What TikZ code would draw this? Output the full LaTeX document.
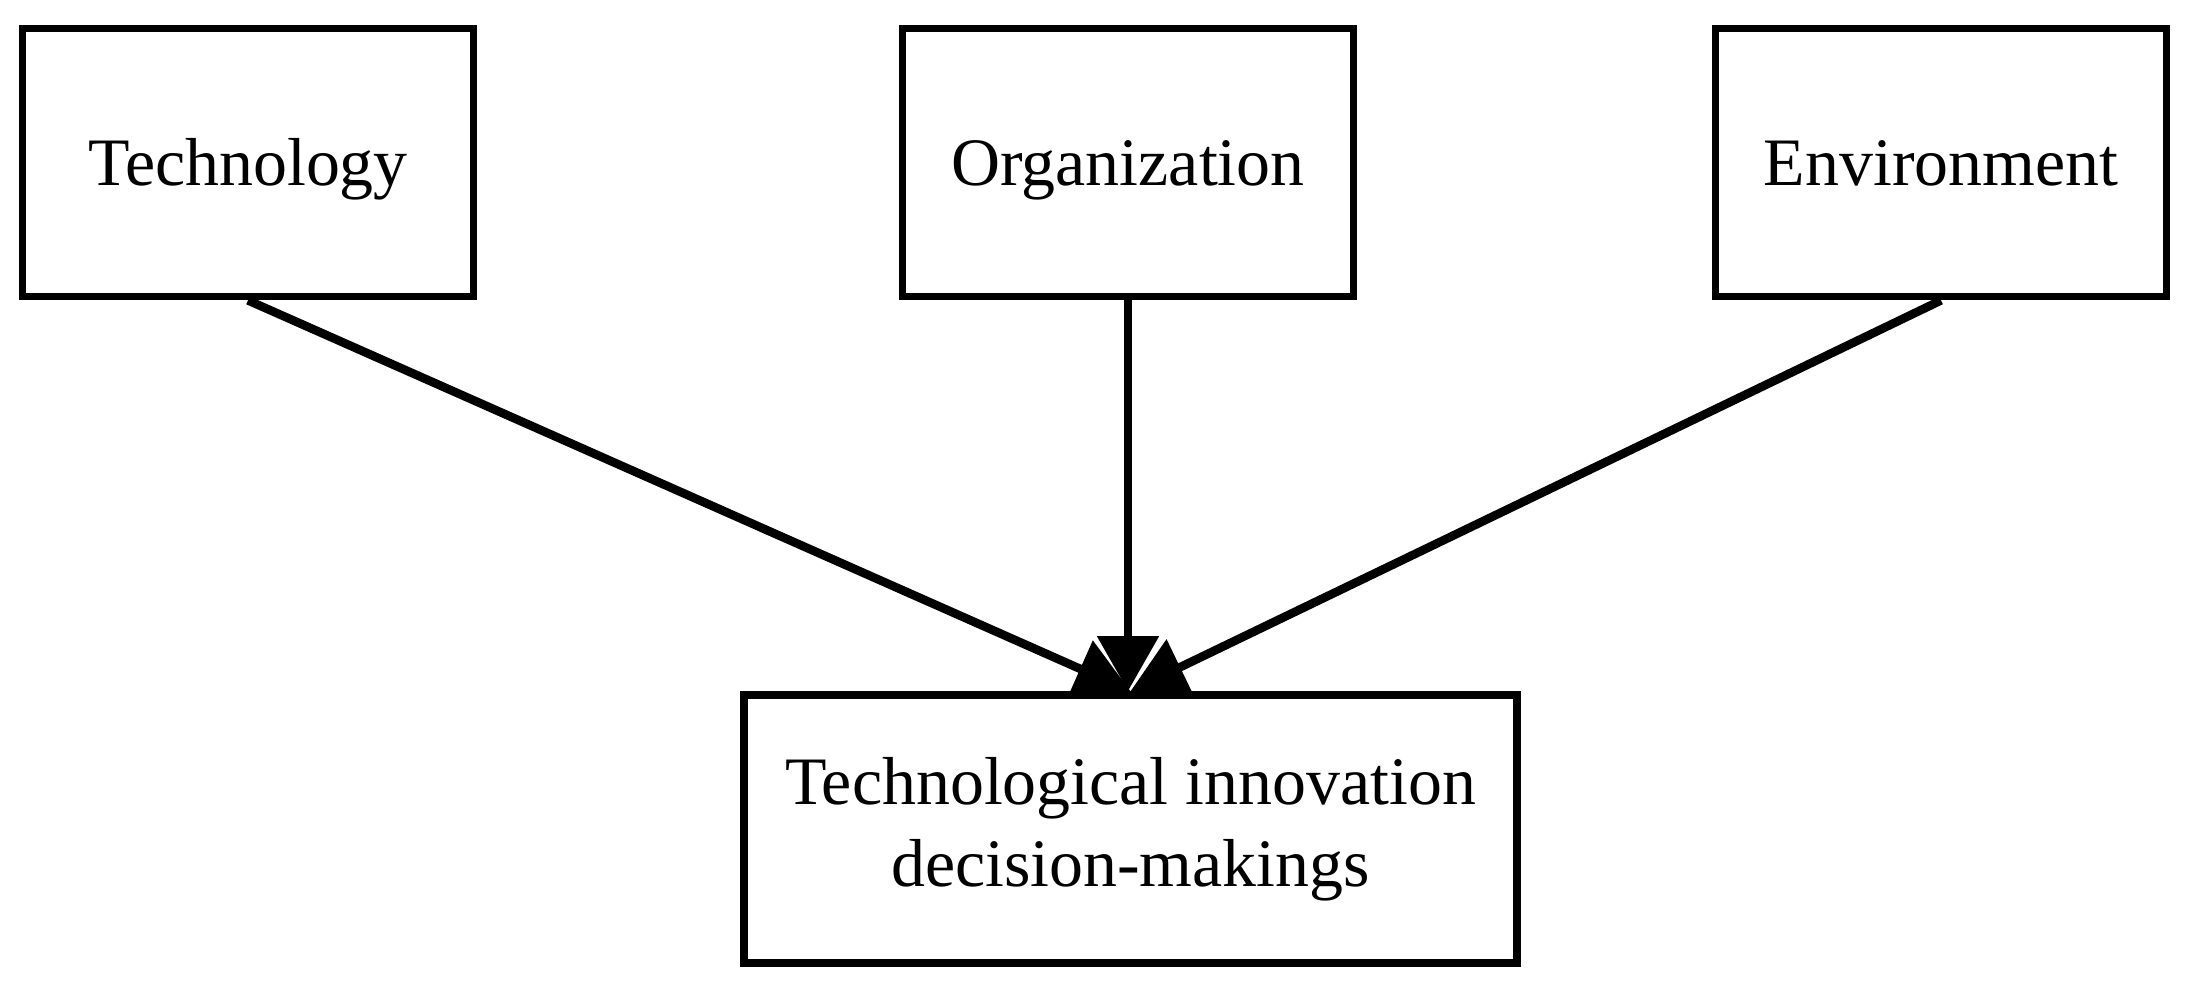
\documentclass[tikz,border=0pt]{standalone}
\usepackage{fontspec}
\setmainfont{Liberation Serif}
\usetikzlibrary{arrows.meta}
\begin{document}
\begin{tikzpicture}[x=0.01cm,y=-0.01cm,
  boxnode/.style={draw=black,line width=0.076cm,fill=white,inner sep=0pt,
    minimum width=4.51cm,minimum height=2.68cm,
    font=\fontsize{19.3}{23.3}\selectfont,text height=14pt,text depth=1.2pt},
  bignode/.style={draw=black,line width=0.076cm,fill=white,inner sep=0pt,
    minimum width=7.73cm,minimum height=2.68cm,align=center,
    font=\fontsize{19.3}{23.3}\selectfont},
  conn/.style={line width=0.086cm,-{Triangle[length=0.55cm,width=0.6cm]}}]
\useasboundingbox (0,0) rectangle (2197,988);
\node[boxnode] (t) at (248,162.5) {Technology};
\node[boxnode] (o) at (1128,162.5) {Organization};
\node[boxnode] (e) at (1941,162.5) {Environment};
\node[bignode] (d) at (1130.5,829) {Technological innovation\\decision-makings};
\draw[conn] (t.south) -- (d.north);
\draw[conn] (o.south) -- (o.south |- d.north);
\draw[conn] (e.south) -- (d.north);
\end{tikzpicture}
\end{document}
